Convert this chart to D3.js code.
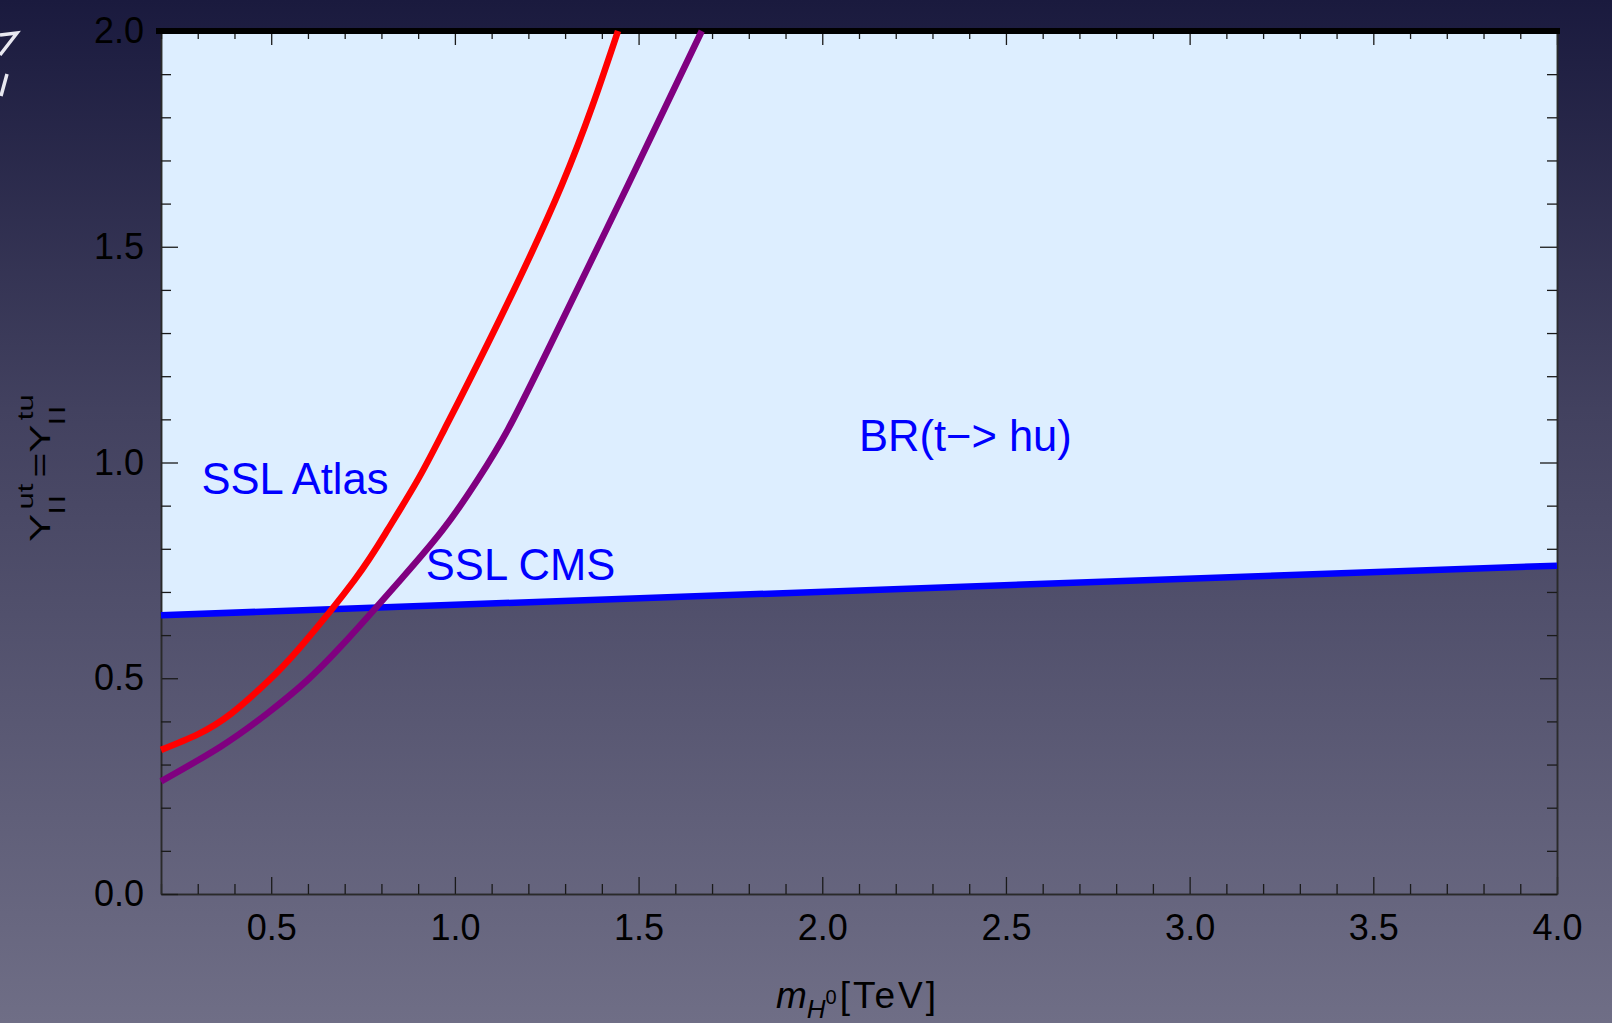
<!DOCTYPE html>
<html>
<head>
<meta charset="utf-8">
<script src="https://cdn.jsdelivr.net/npm/d3@7"></script>
<style>
  body { margin: 0; overflow: hidden; }
  text { font-family: 'Liberation Sans', Arial, sans-serif; }
</style>
</head>
<body>
<div id="chart"></div>
<script>
// values (m in TeV, Y coupling)
const atlasMass = [0.2, 0.3, 0.391, 0.49, 0.581, 0.727, 0.817, 0.899, 0.971, 1.088, 1.291, 1.444];
const atlasY = [0.334, 0.37, 0.418, 0.492, 0.574, 0.728, 0.844, 0.96, 1.076, 1.273, 1.643, 2.0];

const cmsMass = [0.2, 0.363, 0.49, 0.599, 0.69, 0.772, 0.852, 0.967, 1.062, 1.144, 1.26, 1.471, 1.672];
const cmsY = [0.261, 0.342, 0.419, 0.496, 0.574, 0.651, 0.728, 0.844, 0.96, 1.076, 1.273, 1.643, 2.0];

const brMass = [0.2, 4.0];
const brY = [0.646, 0.761];

const xMajor = [0.5, 1.0, 1.5, 2.0, 2.5, 3.0, 3.5, 4.0];
const yMajor = [0.0, 0.5, 1.0, 1.5, 2.0];
const labels = ['SSL Atlas', 'SSL CMS', 'BR(t\u2212> hu)'];

const W = 1612;
const H = 1023;

const svg = d3.select('#chart').append('svg').attr('width', W).attr('height', H);

// slide background
const grad = svg.append('defs').append('linearGradient')
  .attr('id', 'bg').attr('x1', 0).attr('y1', 0).attr('x2', 0).attr('y2', 1);
grad.append('stop').attr('offset', '0%').attr('stop-color', '#1a1a3e');
grad.append('stop').attr('offset', '40%').attr('stop-color', '#42415f');
grad.append('stop').attr('offset', '100%').attr('stop-color', '#6f6e86');
svg.append('rect').attr('width', W).attr('height', H).attr('fill', 'url(#bg)');

// bit of slide decoration top-left
svg.append('path')
  .attr('d', 'M0,35 L17,33 L0,55 M7,74 L1,96')
  .attr('fill', 'none').attr('stroke', '#e8e8f0').attr('stroke-width', 3.5);

const x = d3.scaleLinear().domain([0.2, 4]).range([161, 1557]);
const y = d3.scaleLinear().domain([0, 2]).range([894, 31]);

const atlas = atlasMass.map((m, i) => ({ m, v: atlasY[i] }));
const cms = cmsMass.map((m, i) => ({ m, v: cmsY[i] }));
const br = brMass.map((m, i) => ({ m, v: brY[i] }));

// allowed region above BR line
svg.append('path')
  .datum(br)
  .attr('d', d3.area().x((d) => x(d.m)).y0(y(2)).y1((d) => y(d.v)))
  .attr('fill', '#ddeeff');

const minorX = d3.range(2, 41).map((d) => d / 10).filter((d) => Math.round(d * 10) % 5 !== 0);
const minorY = d3.range(0, 21).map((d) => d / 10).filter((d) => Math.round(d * 10) % 5 !== 0);

// axes, ticks pointing inward
svg.append('g').attr('transform', `translate(0, ${y(0)})`)
  .call(d3.axisBottom(x).tickValues(xMajor).tickFormat(d3.format('.1f'))
    .tickSizeInner(-17).tickSizeOuter(0).tickPadding(20));
svg.append('g').attr('transform', `translate(0, ${y(0)})`)
  .call(d3.axisBottom(x).tickValues(minorX).tickFormat('').tickSizeInner(-10).tickSizeOuter(0));

svg.append('g').attr('transform', `translate(${x(0.2)}, 0)`)
  .call(d3.axisLeft(y).tickValues(yMajor).tickFormat(d3.format('.1f'))
    .tickSizeInner(-17).tickSizeOuter(0).tickPadding(17));
svg.append('g').attr('transform', `translate(${x(0.2)}, 0)`)
  .call(d3.axisLeft(y).tickValues(minorY).tickFormat('').tickSizeInner(-10).tickSizeOuter(0));

svg.append('g').attr('transform', `translate(0, ${y(2)})`)
  .call(d3.axisTop(x).tickValues(xMajor).tickFormat('').tickSizeInner(-14).tickSizeOuter(0));
svg.append('g').attr('transform', `translate(0, ${y(2)})`)
  .call(d3.axisTop(x).tickValues(minorX).tickFormat('').tickSizeInner(-8).tickSizeOuter(0));

svg.append('g').attr('transform', `translate(${x(4)}, 0)`)
  .call(d3.axisRight(y).tickValues(yMajor).tickFormat('').tickSizeInner(-17).tickSizeOuter(0));
svg.append('g').attr('transform', `translate(${x(4)}, 0)`)
  .call(d3.axisRight(y).tickValues(minorY).tickFormat('').tickSizeInner(-10).tickSizeOuter(0));

svg.selectAll('.domain').attr('stroke', '#2a2a2a').attr('stroke-width', 1.5);
svg.selectAll('.tick line').attr('stroke', '#1a1a1a').attr('stroke-width', 1.3);
svg.selectAll('.tick text').attr('font-size', 36).attr('fill', '#000')
  .attr('font-family', "'Liberation Sans', Arial, sans-serif");

// thick top frame
svg.append('line')
  .attr('x1', x(0.2) - 5).attr('x2', x(4) + 3)
  .attr('y1', y(2)).attr('y2', y(2))
  .attr('stroke', '#000').attr('stroke-width', 6);

// curves
const line = d3.line().x((d) => x(d.m)).y((d) => y(d.v)).curve(d3.curveNatural);

svg.append('path').datum(br).attr('d', line)
  .attr('fill', 'none').attr('stroke', '#0000ff').attr('stroke-width', 6.5);
svg.append('path').datum(cms).attr('d', line)
  .attr('fill', 'none').attr('stroke', '#800080').attr('stroke-width', 6.5);
svg.append('path').datum(atlas).attr('d', line)
  .attr('fill', 'none').attr('stroke', '#ff0000').attr('stroke-width', 6.5);

// curve labels
const labelPos = [[0.31, 0.927], [0.921, 0.728], [2.1, 1.027]];
svg.selectAll('.lbl')
  .data(labels)
  .join('text')
  .attr('class', 'lbl')
  .attr('x', (d, i) => x(labelPos[i][0]))
  .attr('y', (d, i) => y(labelPos[i][1]))
  .attr('font-size', 43.5)
  .attr('fill', '#0000ff')
  .text((d) => d);

// x axis title
const xt = svg.append('text')
  .attr('x', 776).attr('y', 1008)
  .attr('font-size', 37).attr('fill', '#000');
xt.append('tspan').attr('font-style', 'italic').text('m');
xt.append('tspan').attr('font-style', 'italic').attr('font-size', 26).attr('dy', 10).text('H');
xt.append('tspan').attr('font-size', 20).attr('dy', -14).text('0');
xt.append('tspan').attr('dy', 4).attr('dx', 3).attr('letter-spacing', 3).text('[TeV]');

// y axis title: Y_ll^ut = Y_ll^tu, sub and sup stacked
const yt = svg.append('g');
const yText = yt.append('text').attr('fill', '#000');
function subSup(t, sub, sup) {
  t.append('tspan').attr('font-size', 30).text('Y');
  const s = t.append('tspan').attr('font-size', 22).attr('letter-spacing', 3)
    .attr('dy', 15).text(sub);
  const w = s.node().getComputedTextLength();
  t.append('tspan').attr('font-size', 22).attr('dx', -w + 3).attr('dy', -32).text(sup);
  t.append('tspan').attr('font-size', 22).attr('dy', 17).text('\u2009');
}
subSup(yText, 'll', 'ut');
yText.append('tspan').attr('font-size', 30).text('=');
subSup(yText, 'll', 'tu');
const bb = yText.node().getBBox();
const stretch = 154 / bb.width;
yt.attr('transform',
  `translate(50, 465) rotate(-90) scale(${stretch}, 1) translate(${-(bb.x + bb.width / 2)}, 0)`);
</script>
</body>
</html>
